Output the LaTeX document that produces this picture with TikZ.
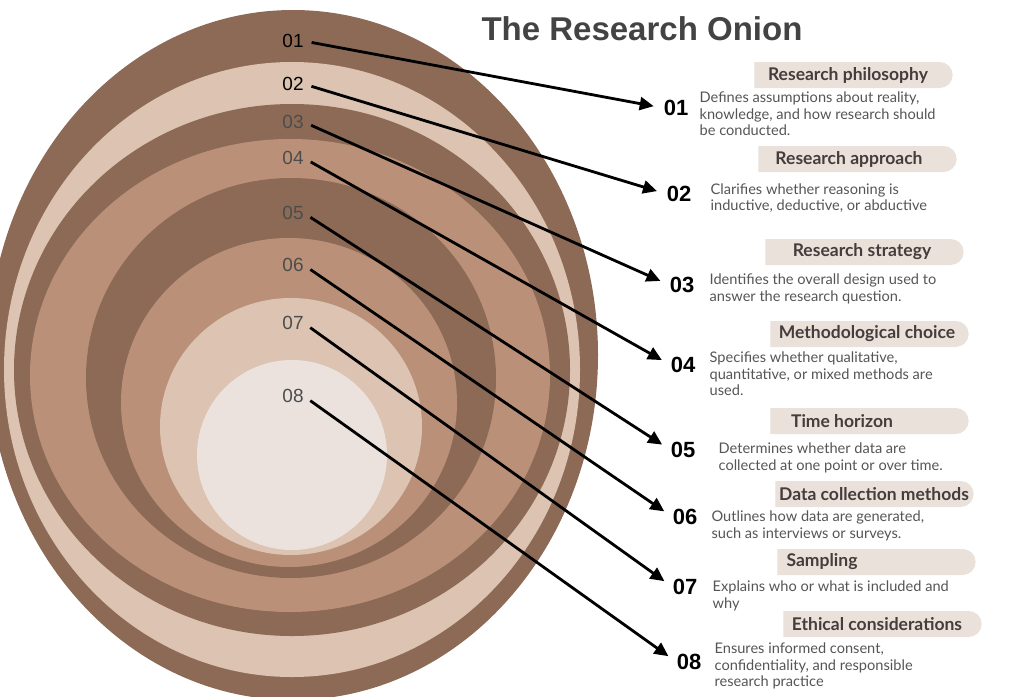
\documentclass[tikz,border=0pt]{standalone}
\usepackage{fontspec}
\setmainfont{Lato}
\newfontfamily\numfont{Liberation Sans}
\usepackage{tikz}
\usetikzlibrary{
  arrows.meta,
  positioning,
  shapes.misc,
}
\definecolor{onionbrown}{HTML}{8C6A56}
\definecolor{onionlight}{HTML}{DCC3B2}
\definecolor{oniontan}{HTML}{BA9178}
\definecolor{onioncore}{HTML}{EBE2DE}
\definecolor{pillfill}{HTML}{EAE1DA}
\definecolor{headgrey}{HTML}{463C3C}
\definecolor{descgrey}{HTML}{555555}
\definecolor{titlegrey}{HTML}{434343}
\tikzstyle{arrow} = [
  -{Triangle[length=14pt,width=13pt]},
  line width=2.8pt,
  black,
  shorten <=8pt,
  shorten >=10pt,
]
\tikzstyle{layer} = [inner sep=0pt, font=\numfont\fontsize{19}{19}\selectfont, text=black!70]
\tikzstyle{pill} = [rounded rectangle, rounded rectangle west arc=none, fill=pillfill, minimum width=205, minimum height=26]
\tikzstyle{head} = [inner sep=0pt, font=\bfseries\fontsize{17.5}{17.5}\selectfont, text=headgrey]
\tikzstyle{num} = [inner sep=0pt, font=\numfont\bfseries\fontsize{22}{22}\selectfont]
\tikzstyle{desc} = [inner sep=0pt, align=left, font=\fontsize{14.6}{16.5}\selectfont, text=descgrey]

\begin{document}
\begin{tikzpicture}[x=1pt,y=-1pt,node distance=0mm and 0mm]
      \useasboundingbox (0,0) rectangle (1024,696);

      % the onion
      \fill[onionbrown] (293,355) ellipse [x radius=305, y radius=345];
      \fill[onionlight] (292,369.5) ellipse [x radius=288, y radius=307.5];
      \fill[onionbrown] (292,370) ellipse [x radius=278, y radius=266];
      \fill[oniontan]   (290,375.5) ellipse [x radius=260, y radius=236.5];
      \fill[onionbrown] (291,378) ellipse [x radius=205, y radius=200];
      \fill[oniontan]   (289,402.5) ellipse [x radius=168, y radius=164.5];
      \fill[onionlight] (291,426.5) ellipse [x radius=131, y radius=128.5];
      \fill[onioncore]  (292,455) ellipse [x radius=95, y radius=95];

      \node[layer,text=black] (lbl1) at (293,41)  {01};
      \node[layer,text=black] (lbl2) at (293,84)  {02};
      \node[layer] (lbl3) at (293,122) {03};
      \node[layer] (lbl4) at (293,158) {04};
      \node[layer] (lbl5) at (293,213) {05};
      \node[layer] (lbl6) at (293,265) {06};
      \node[layer] (lbl7) at (293,323) {07};
      \node[layer] (lbl8) at (293,396) {08};

      \node[font=\numfont\bfseries\fontsize{33}{33}\selectfont,text=titlegrey] (title) at (642,29) {The Research Onion};

      % headings
      \node[pill] (pill1) at (853.5,75)  {};
      \node[pill] (pill2) at (857.5,159) {};
      \node[pill] (pill3) at (864.5,252) {};
      \node[pill] (pill4) at (869.5,334) {};
      \node[pill] (pill5) at (869.5,421) {};
      \node[pill] (pill6) at (874.5,494) {};
      \node[pill] (pill7) at (876.5,562) {};
      \node[pill] (pill8) at (882.5,624) {};

      \node[head] (head1) at (848,75)  {Research philosophy};
      \node[head] (head2) at (849,159) {Research approach};
      \node[head] (head3) at (862,252) {Research strategy};
      \node[head] (head4) at (867,334) {Methodological choice};
      \node[head] (head5) at (842,421) {Time horizon};
      \node[head] (head6) at (874,494) {Data collection methods};
      \node[head] (head7) at (822,562) {Sampling};
      \node[head] (head8) at (877,624) {Ethical considerations};

      % numbers and texts
      \node[num] (num1) at (676,108) {01};
      \node[num] (num2) at (679,194) {02};
      \node[num] (num3) at (682,285) {03};
      \node[num] (num4) at (683,365) {04};
      \node[num] (num5) at (683,450) {05};
      \node[num] (num6) at (685,517) {06};
      \node[num] (num7) at (685,587) {07};
      \node[num] (num8) at (689,662) {08};

      \node[desc,yshift=-6,xshift=11] (desc1) [right=of num1] {Defines assumptions about reality,\\knowledge, and how research should\\be conducted.};
      \node[desc,yshift=-4,xshift=19] (desc2) [right=of num2] {Clarifies whether reasoning is\\inductive, deductive, or abductive};
      \node[desc,yshift=-4,xshift=15] (desc3) [right=of num3] {Identifies the overall design used to\\answer the research question.};
      \node[desc,yshift=-9,xshift=14] (desc4) [right=of num4] {Specifies whether qualitative,\\quantitative, or mixed methods are\\used.};
      \node[desc,yshift=-8,xshift=23] (desc5) [right=of num5] {Determines whether data are\\collected at one point or over time.};
      \node[desc,yshift=-9,xshift=14] (desc6) [right=of num6] {Outlines how data are generated,\\such as interviews or surveys.};
      \node[desc,yshift=-9,xshift=15] (desc7) [right=of num7] {Explains who or what is included and\\why};
      \node[desc,yshift=-4,xshift=13] (desc8) [right=of num8] {Ensures informed consent,\\confidentiality, and responsible\\research practice};

      \foreach \i in {1,...,8}
        \draw[arrow] (lbl\i.east) -- (num\i.west);

\end{tikzpicture}
\end{document}
